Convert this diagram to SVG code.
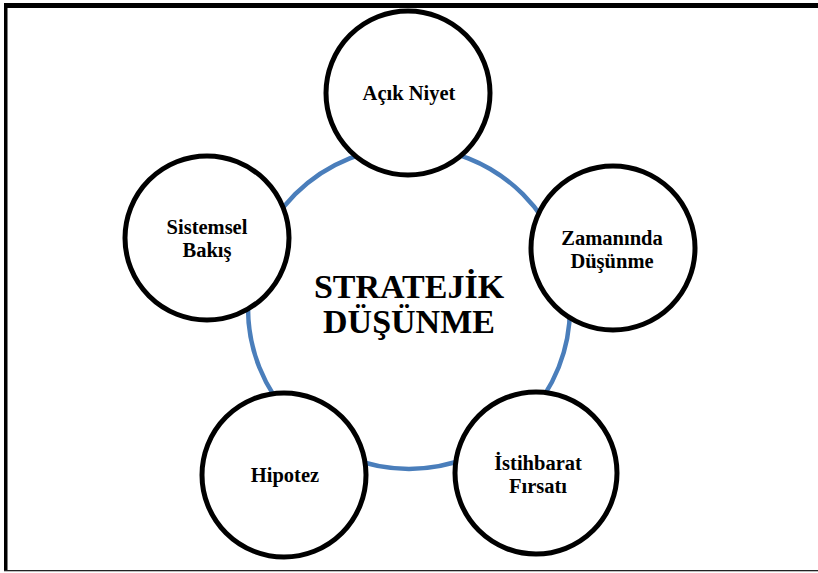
<svg xmlns="http://www.w3.org/2000/svg" width="818" height="573" viewBox="0 0 818 573">
  <style>
    .node circle { fill: #ffffff; stroke: #000000; stroke-width: 5; }
    .label { font-family: "Liberation Serif", "Times New Roman", serif; font-weight: bold; font-size: 20.5px; fill: #000000; text-anchor: middle; }
    .title { font-family: "Liberation Serif", "Times New Roman", serif; font-weight: bold; font-size: 34px; fill: #000000; text-anchor: middle; }
    .ring { fill: none; stroke: #4a7ebb; stroke-width: 4.5; }
  </style>

  <!-- page background and frame -->
  <rect x="0" y="0" width="818" height="573" fill="#ffffff"/>
  <rect x="4" y="3" width="814" height="5" fill="#000000"/>
  <rect x="4" y="3" width="3.5" height="568" fill="#000000"/>
  <rect x="4" y="570" width="814" height="1.3" fill="#222222"/>

  <!-- connector ring joining the five nodes -->
  <g id="connectors">
    <circle class="ring" cx="409" cy="308" r="161"/>
  </g>

  <!-- central label -->
  <g id="center">
    <text class="title" x="409" y="298">STRATEJİK</text>
    <text class="title" x="409" y="333">DÜŞÜNME</text>
  </g>

  <g id="acik-niyet" class="node">
    <circle cx="408" cy="93" r="82"/>
    <text class="label" x="409" y="100">Açık Niyet</text>
  </g>

  <g id="zamaninda-dusunme" class="node">
    <circle cx="613" cy="248" r="82"/>
    <text class="label" x="612" y="245">Zamanında</text>
    <text class="label" x="612" y="268">Düşünme</text>
  </g>

  <g id="istihbarat-firsati" class="node">
    <circle cx="536" cy="473" r="81"/>
    <text class="label" x="538" y="470">İstihbarat</text>
    <text class="label" x="538" y="493">Fırsatı</text>
  </g>

  <g id="hipotez" class="node">
    <circle cx="284" cy="475" r="82"/>
    <text class="label" x="285" y="482">Hipotez</text>
  </g>

  <g id="sistemsel-bakis" class="node">
    <circle cx="207" cy="238" r="82"/>
    <text class="label" x="207" y="234">Sistemsel</text>
    <text class="label" x="207" y="257">Bakış</text>
  </g>
</svg>
